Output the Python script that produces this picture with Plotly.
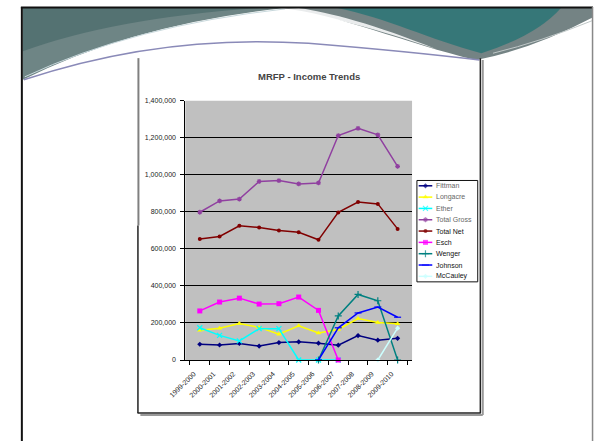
import plotly.graph_objects as go

W, H = 594, 444

years = ["1999-2000", "2000-2001", "2001-2002", "2002-2003", "2003-2004", "2004-2005",
         "2005-2006", "2006-2007", "2007-2008", "2008-2009", "2009-2010"]

fittman = [85000, 81000, 89000, 75000, 94000, 98000, 91000, 80000, 132000, 107000, 117000]
longacre = [160000, 172000, 197000, 176000, 139000, 185000, 146000, 165000, 224000, 203000, 196000]
ether = [174000, 133000, 103000, 169000, 169000, 0, 0, 0, None, None, None]
total_gross = [798000, 859000, 869000, 964000, 969000, 951000, 956000, 1212000, 1251000, 1216000, 1046000]
total_net = [654000, 667000, 725000, 716000, 699000, 690000, 649000, 797000, 853000, 843000, 708000]
esch = [265000, 313000, 334000, 302000, 304000, 340000, 268000, 0, None, None, None]
wenger = [None, None, None, None, None, None, 0, 238000, 354000, 320000, 0]
johnson = [None, None, None, None, None, None, 0, 174000, 254000, 286000, 231000]
mccauley = [None, None, None, None, None, None, None, None, None, 0, 172000]

series_names = ["Fittman", "Longacre", "Ether", "Total Gross", "Total Net", "Esch", "Wenger", "Johnson", "McCauley"]
series_values = [fittman, longacre, ether, total_gross, total_net, esch, wenger, johnson, mccauley]
series_colors = ["#000080", "#FFFF00", "#00FFFF", "#9040A0", "#800000", "#FF00FF", "#008080", "#0000FF", "#CCFFFF"]
series_symbols = ["diamond", "triangle-up", "x-thin-open", "asterisk-open", "circle", "square",
                  "cross-thin-open", "line-ew-open", "diamond"]
series_msize = [4, 5, 5, 4, 4, 5, 5, 5, 4]

FONT = "Liberation Sans, Arial, sans-serif"


def fx(x):
    return x / W


def fy(y):
    return 1 - y / H


def path(cmds):
    out = []
    for c in cmds:
        if isinstance(c, str):
            out.append(c)
        else:
            out.append(f"{fx(c[0]):.5f},{fy(c[1]):.5f}")
    return " ".join(out)


PL, PR, PT, PB = 173.3, 406.7, 98.3, 361.7

fig = go.Figure()

for name, vals, col, sym, ms in zip(series_names, series_values, series_colors, series_symbols, series_msize):
    open_sym = sym.endswith("-open")
    fig.add_trace(go.Scatter(
        x=years, y=vals, name=name, mode="lines+markers",
        line=dict(color=col, width=1.5),
        marker=dict(symbol=sym, size=ms, color=col,
                    line=dict(color=col, width=1.2 if open_sym else 0)),
        connectgaps=False, showlegend=False, xaxis="x", yaxis="y", cliponaxis=False,
    ))

# custom legend glyphs (overlay pixel axes)
leg_top = 184.7
leg_step = 11.5
annotations = []
for i, (name, col, sym, ms) in enumerate(zip(series_names, series_colors, series_symbols, series_msize)):
    yy = leg_top + leg_step * i
    open_sym = sym.endswith("-open")
    fig.add_trace(go.Scatter(
        x=[413.5, 420.5, 427.5], y=[yy, yy, yy], mode="lines+markers",
        line=dict(color=col, width=1.5),
        marker=dict(symbol=sym, size=[0, ms, 0], color=col,
                    line=dict(color=col, width=1.2 if open_sym else 0)),
        showlegend=False, xaxis="x2", yaxis="y2", hoverinfo="skip",
    ))
    annotations.append(dict(
        x=fx(429.5), y=fy(yy), xref="paper", yref="paper", text=name, showarrow=False,
        xanchor="left", yanchor="middle",
        font=dict(family=FONT, size=7, color="#666666" if i < 4 else "#111111"),
    ))

annotations.append(dict(
    x=fx(301), y=fy(74), xref="paper", yref="paper", text="<b>MRFP - Income Trends</b>",
    showarrow=False, xanchor="center", yanchor="middle",
    font=dict(family=FONT, size=9.5, color="#444444"),
))

shapes = []
# slide header swoosh
shapes.append(dict(type="path", xref="paper", yref="paper", layer="below",
                   path=path(["M", (6, 4), "L", (276, 4), "Q", (120, 20), (6, 77), "Z"]),
                   fillcolor="#6e8585", line=dict(width=0)))
shapes.append(dict(type="path", xref="paper", yref="paper", layer="below",
                   path=path(["M", (6, 4), "L", (250, 4), "Q", (100, 14), (6, 48), "Z"]),
                   fillcolor="#48696a", opacity=0.7, line=dict(width=0)))
shapes.append(dict(type="path", xref="paper", yref="paper", layer="below",
                   path=path(["M", (272, 4), "L", (592, 4), "L", (592, 14), "Q", (530, 46), (473, 57),
                              "C", (400, 40), (330, 10), (272, 4), "Z"]),
                   fillcolor="#748384", line=dict(width=0)))
shapes.append(dict(type="path", xref="paper", yref="paper", layer="below",
                   path=path(["M", (330, 4), "L", (560, 4), "Q", (535, 32), (478, 50),
                              "C", (425, 36), (380, 14), (330, 4), "Z"]),
                   fillcolor="#2b7676", opacity=0.85, line=dict(width=0)))
shapes.append(dict(type="path", xref="paper", yref="paper", layer="below",
                   path=path(["M", (268, 5), "C", (320, 12), (370, 25), (432, 46),
                              "C", (370, 21), (320, 8), (290, 4), "Z"]),
                   fillcolor="#ffffff", opacity=0.85, line=dict(width=0)))
shapes.append(dict(type="path", xref="paper", yref="paper", layer="below",
                   path=path(["M", (7, 77), "Q", (150, 30), (300, 40), "Q", (400, 48), (476, 57)]),
                   line=dict(color="#8a8ab8", width=1.5)))
shapes.append(dict(type="path", xref="paper", yref="paper", layer="below",
                   path=path(["M", (8, 74), "Q", (120, 22), (276, 5)]),
                   line=dict(color="#c8d8dc", width=1)))
shapes.append(dict(type="path", xref="paper", yref="paper", layer="below",
                   path=path(["M", (490, 50), "Q", (540, 38), (592, 17)]),
                   line=dict(color="#c0c8c8", width=1)))
# slide border
shapes.append(dict(type="line", xref="paper", yref="paper", layer="below",
                   x0=fx(4), x1=fx(593), y0=fy(3.5), y1=fy(3.5), line=dict(color="#111111", width=2)))
shapes.append(dict(type="line", xref="paper", yref="paper", layer="below",
                   x0=fx(5), x1=fx(5), y0=fy(3), y1=fy(444), line=dict(color="#111111", width=2)))
shapes.append(dict(type="line", xref="paper", yref="paper", layer="below",
                   x0=fx(592.5), x1=fx(592.5), y0=fy(3), y1=fy(444), line=dict(color="#888888", width=1.5)))
# chart box with shadow
shapes.append(dict(type="line", xref="paper", yref="paper", layer="below",
                   x0=fx(479.5), x1=fx(479.5), y0=fy(57), y1=fy(417.5), line=dict(color="#999999", width=2)))
shapes.append(dict(type="line", xref="paper", yref="paper", layer="below",
                   x0=fx(127), x1=fx(479.5), y0=fy(417.5), y1=fy(417.5), line=dict(color="#999999", width=2)))
shapes.append(dict(type="line", xref="paper", yref="paper", layer="below",
                   x0=fx(125), x1=fx(125), y0=fy(55), y1=fy(225), line=dict(color="#808080", width=2)))
shapes.append(dict(type="line", xref="paper", yref="paper", layer="below",
                   x0=fx(124.5), x1=fx(124.5), y0=fy(225), y1=fy(415.5), line=dict(color="#222222", width=1.5)))
shapes.append(dict(type="line", xref="paper", yref="paper", layer="below",
                   x0=fx(477), x1=fx(477), y0=fy(55), y1=fy(415.5), line=dict(color="#222222", width=1.5)))
shapes.append(dict(type="line", xref="paper", yref="paper", layer="below",
                   x0=fx(124), x1=fx(477.5), y0=fy(415.5), y1=fy(415.5), line=dict(color="#222222", width=1.5)))
# plot area background
shapes.append(dict(type="rect", xref="paper", yref="paper", layer="below",
                   x0=fx(PL), x1=fx(PR), y0=fy(PB), y1=fy(PT), fillcolor="#C0C0C0", line=dict(width=0)))
# legend box
shapes.append(dict(type="rect", xref="paper", yref="paper", layer="below",
                   x0=fx(411.7), x1=fx(474.3), y0=fy(282.3), y1=fy(179.3), fillcolor="#ffffff",
                   line=dict(color="#111111", width=1)))

fig.update_layout(
    width=W, height=H,
    margin=dict(l=0, r=0, t=0, b=0),
    paper_bgcolor="#ffffff",
    plot_bgcolor="rgba(0,0,0,0)",
    showlegend=False,
    font=dict(family=FONT, size=7, color="#222222"),
    xaxis=dict(domain=[fx(PL), fx(PR)], anchor="y", type="category",
               tickangle=-45, ticks="outside", ticklen=4, tickcolor="#000000",
               tickson="boundaries", showline=True, linecolor="#000000", linewidth=1,
               ticklabelstandoff=6, ticklabelshift=-6,
               showgrid=False, tickfont=dict(family=FONT, size=7, color="#222222")),
    yaxis=dict(domain=[fy(PB), fy(PT)], anchor="x", range=[0, 1400000], dtick=200000,
               tickformat=",d", ticks="outside", ticklen=4, tickcolor="#000000",
               showline=True, linecolor="#000000", linewidth=1, ticklabelstandoff=3,
               showgrid=True, gridcolor="#000000", gridwidth=1, zeroline=False,
               tickfont=dict(family=FONT, size=7, color="#222222")),
    xaxis2=dict(domain=[0, 1], anchor="y2", range=[0, W], visible=False, fixedrange=True),
    yaxis2=dict(domain=[0, 1], anchor="x2", range=[H, 0], visible=False, fixedrange=True),
    shapes=shapes,
    annotations=annotations,
)

fig.write_html("out.html", config={"displayModeBar": False},
               post_script="document.body.style.margin='0';document.body.style.padding='0';")
